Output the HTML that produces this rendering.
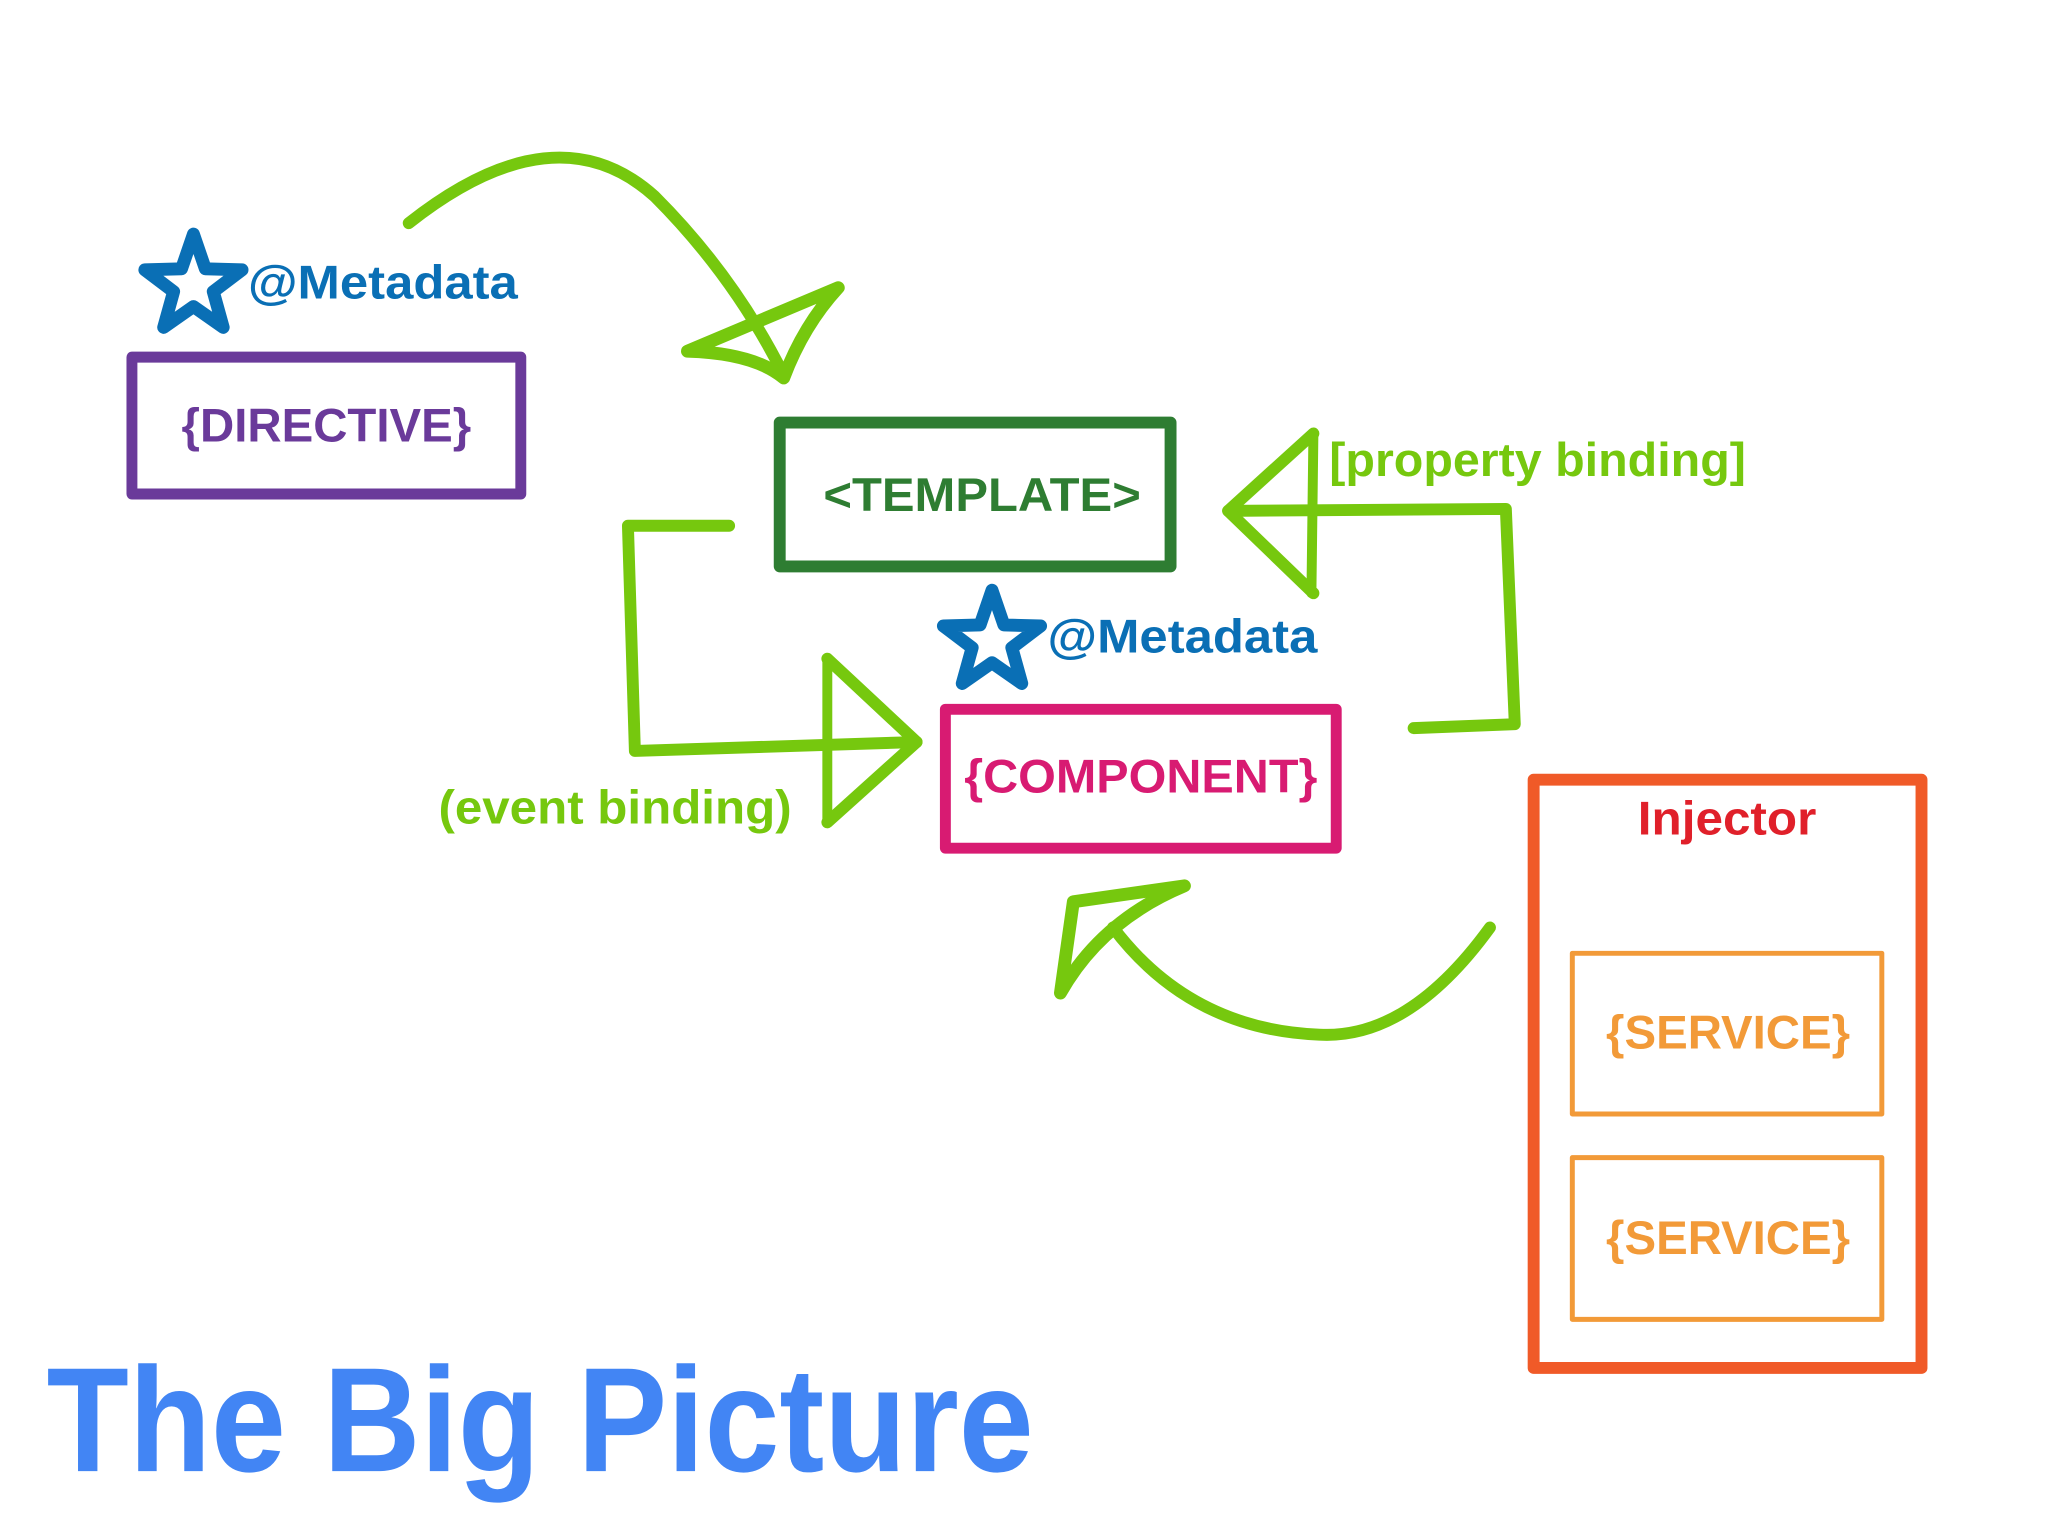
<!DOCTYPE html>
<html><head><meta charset="utf-8"><style>
html,body{margin:0;padding:0;background:#fff;}
svg{display:block;}
text{font-family:"Liberation Sans",sans-serif;font-weight:bold;}
</style></head><body>
<svg width="2048" height="1536" viewBox="0 0 2048 1536" xmlns="http://www.w3.org/2000/svg">
<g transform="scale(0.992) translate(0,-2)">
<g fill="none" stroke-linecap="round" stroke-linejoin="round">
<rect x="133" y="362" width="392" height="138" stroke="#6a3a9a" stroke-width="11"/>
<rect x="786" y="428" width="394" height="145" stroke="#2e7d32" stroke-width="12"/>
<rect x="953" y="717" width="394" height="140" stroke="#d81b72" stroke-width="11"/>
<rect x="1546" y="788" width="391" height="593" stroke="#f05a28" stroke-width="12"/>
<rect x="1585" y="963" width="312" height="162" stroke="#f29a38" stroke-width="5"/>
<rect x="1585" y="1169" width="312" height="163" stroke="#f29a38" stroke-width="5"/>
<g stroke="#76c80e" stroke-width="12">
<path d="M412 227 Q560 110 660 200 Q740 280 790 380"/>
<path d="M693 356 L845 292 Q810 330 790 383 Q760 358 693 356 Z" stroke-width="13"/>
<path d="M735 532 L633 532 L640 759 L924 750"/>
<path d="M834 666 L924 750 L834 831" />
<path d="M834 666 L834 831" stroke-width="10"/>
<path d="M1425 736 L1527 732 L1518 515 L1238 517"/>
<path d="M1324 439 L1238 517 L1324 600" />
<path d="M1324 439 L1322 600" stroke-width="10"/>
<path d="M1502 937 Q1420 1050 1330 1045 Q1200 1040 1122 937"/>
<path d="M1194 895 L1082 911 L1069 1003 Q1110 930 1194 895 Z" stroke-width="13"/>
</g>
<g stroke="#0a6fb5" stroke-width="13">
<polygon points="195,238 207,273 244,274 215,296 225,332 195,311 165,332 175,296 146,274 183,273"/>
<polygon points="1000,597 1012,632 1049,633 1020,655 1030,691 1000,670 970,691 980,655 951,633 988,632"/>
</g>
</g>
<g>
<text x="250" y="303" font-size="48" fill="#0a6fb5" textLength="272" lengthAdjust="spacingAndGlyphs">@Metadata</text>
<text x="1056" y="660" font-size="48" fill="#0a6fb5" textLength="272" lengthAdjust="spacingAndGlyphs">@Metadata</text>
<text x="329" y="447" font-size="48" fill="#6a3a9a" text-anchor="middle" textLength="292" lengthAdjust="spacingAndGlyphs">{DIRECTIVE}</text>
<text x="990" y="517" font-size="48" fill="#2e7d32" text-anchor="middle" textLength="320" lengthAdjust="spacingAndGlyphs">&lt;TEMPLATE&gt;</text>
<text x="1150" y="801" font-size="48" fill="#d81b72" text-anchor="middle" textLength="356" lengthAdjust="spacingAndGlyphs">{COMPONENT}</text>
<text x="1741" y="843" font-size="48" fill="#e0202a" text-anchor="middle" textLength="180" lengthAdjust="spacingAndGlyphs">Injector</text>
<text x="1742" y="1059" font-size="48" fill="#f29a38" text-anchor="middle" textLength="246" lengthAdjust="spacingAndGlyphs">{SERVICE}</text>
<text x="1742" y="1266" font-size="48" fill="#f29a38" text-anchor="middle" textLength="246" lengthAdjust="spacingAndGlyphs">{SERVICE}</text>
<text x="1340" y="482" font-size="48" fill="#76c80e" textLength="420" lengthAdjust="spacingAndGlyphs">[property binding]</text>
<text x="442" y="832" font-size="48" fill="#76c80e" textLength="356" lengthAdjust="spacingAndGlyphs">(event binding)</text>
<text x="47" y="1485" font-size="150" fill="#4285f4" textLength="995" lengthAdjust="spacingAndGlyphs">The Big Picture</text>
</g>
</g>
</svg>
</body></html>
